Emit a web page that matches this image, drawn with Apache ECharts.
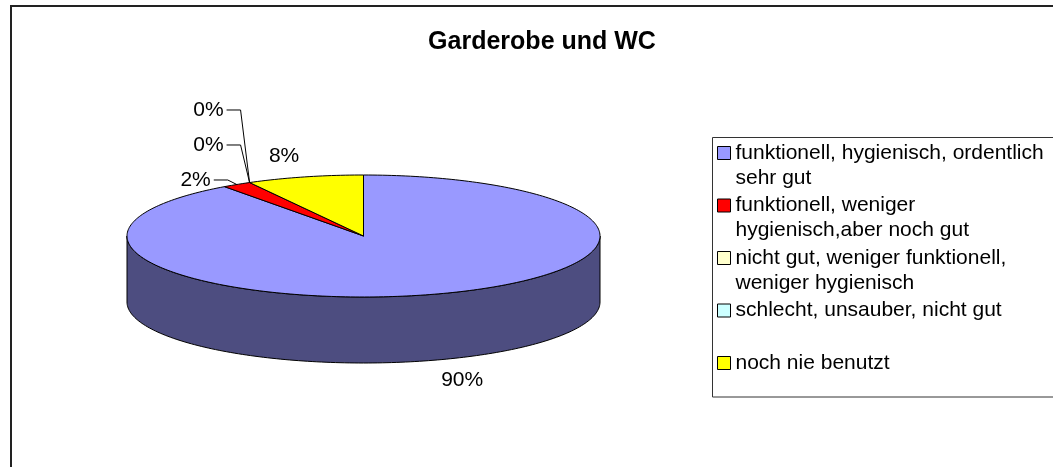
<!DOCTYPE html>
<html>
<head>
<meta charset="utf-8">
<script src="https://cdn.jsdelivr.net/npm/echarts@6/dist/echarts.min.js"></script>
<style>
    html, body {margin: 0; padding: 0; background: #fff;}
    #chart {width: 1053px; height: 467px;}
</style>
</head>
<body>
<div id="chart"></div>
<script>
// categories, with "\n" where the legend wraps them
var categories = [
    'funktionell, hygienisch, ordentlich\nsehr gut',
    'funktionell, weniger\nhygienisch,aber noch gut',
    'nicht gut, weniger funktionell,\nweniger hygienisch',
    'schlecht, unsauber, nicht gut',
    'noch nie benutzt'
];
var values = [90, 2, 0, 0, 8];   // percent
var colors = ['#9999FF', '#FF0000', '#FFFFCC', '#CCFFFF', '#FFFF00'];

// pie geometry (ellipse with a depth)
var cx = 363.5, cy = 236, rx = 236.5, ry = 61, depth = 66;
var FONT = 'Arial, "Liberation Sans", sans-serif';

var total = values.reduce(function (a, b) { return a + b; }, 0);
var starts = [];
var acc = 0;
values.forEach(function (v) { starts.push(acc); acc += v; });

function pt(t, dy) {
    return [cx + rx * Math.sin(t), cy - ry * Math.cos(t) + (dy || 0)];
}
function arc(a0, a1, dy) {
    var n = Math.max(2, Math.ceil(Math.abs(a1 - a0) / 0.02));
    var pts = [];
    for (var i = 0; i <= n; i++) {
        pts.push(pt(a0 + (a1 - a0) * i / n, dy));
    }
    return pts;
}

// label placement like excel: small slices get stacked labels with leader lines
var labels = [];
var smallBase = null, k = 0;
values.forEach(function (v, i) {
    var mid = (starts[i] + v / 2) / total * Math.PI * 2;
    var pct = Math.round(v / total * 100);
    var anchor = pt(mid);
    if (pct < 3) {
        if (smallBase == null) smallBase = anchor[1] - 4.5;
        var y = smallBase - 35 * k;
        k++;
        labels.push({
            text: pct + '%', x: anchor[0] - 26, y: y, align: 'right',
            line: [[anchor[0] - 23, y], [anchor[0] - 9, y], anchor]
        });
    } else {
        var front = Math.cos(mid) < 0;
        labels.push({
            text: pct + '%',
            x: cx + 1.35 * rx * Math.sin(mid),
            y: cy - 1.35 * ry * Math.cos(mid) + (front ? depth : 0),
            align: 'center', line: null
        });
    }
});

function makeSeries(idx) {
    return {
        type: 'custom',
        name: categories[idx],
        coordinateSystem: 'none',
        itemStyle: {color: colors[idx]},
        data: [[values[idx]]],
        renderItem: function (params, api) {
            var v = api.value(0);
            var a0 = starts[idx] / total * Math.PI * 2;
            var a1 = a0 + v / total * Math.PI * 2;
            var children = [];
            // visible front side, darker shade
            var s0 = Math.max(a0, Math.PI / 2), s1 = Math.min(a1, Math.PI * 1.5);
            if (s1 > s0) {
                children.push({
                    type: 'polygon',
                    shape: {points: arc(s0, s1, 0).concat(arc(s1, s0, depth))},
                    style: {fill: echarts.color.lerp(0.5, [colors[idx], '#000000']), stroke: '#000', lineWidth: 1}
                });
            }
            if (v > 0) {
                children.push({
                    type: 'polygon',
                    shape: {points: [[cx, cy]].concat(arc(a0, a1, 0))},
                    style: {fill: colors[idx], stroke: '#000', lineWidth: 1}
                });
            }
            var lb = labels[idx];
            if (lb.line) {
                children.push({
                    type: 'polyline',
                    shape: {points: lb.line},
                    style: {fill: null, stroke: '#000', lineWidth: 1}
                });
            }
            children.push({
                type: 'text',
                style: {
                    text: lb.text, x: lb.x, y: lb.y, align: lb.align, verticalAlign: 'middle',
                    fill: '#000', fontSize: 21, fontFamily: FONT
                }
            });
            return {type: 'group', children: children};
        }
    };
}

var chart = echarts.init(document.getElementById('chart'));
chart.setOption({
    animation: false,
    backgroundColor: '#fff',
    title: {
        text: 'Garderobe und WC',
        left: 542,
        top: 30,
        textAlign: 'center',
        padding: 0,
        textStyle: {fontSize: 25, fontWeight: 'bold', fontFamily: FONT, color: '#000'}
    },
    legend: {
        orient: 'vertical',
        left: 717,
        top: 115.5,
        padding: 0,
        itemWidth: 13,
        itemHeight: 13,
        itemGap: -22.5,
        icon: 'rect',
        selectedMode: false,
        itemStyle: {borderColor: '#000', borderWidth: 1},
        textStyle: {fontSize: 21, fontFamily: FONT, color: '#000', lineHeight: 25},
        formatter: function (name) {
            var parts = name.split('\n');
            return '\n' + parts[0] + '\n' + (parts[1] || '');
        }
    },
    graphic: [
        {
            type: 'rect', z: -1, silent: true,
            shape: {x: 11, y: 6, width: 1100, height: 600},
            style: {fill: null, stroke: '#222', lineWidth: 2}
        },
        {
            type: 'rect', z: -1, silent: true,
            shape: {x: 712.5, y: 137.5, width: 400, height: 259.5},
            style: {fill: null, stroke: '#333', lineWidth: 1}
        }
    ],
    series: values.map(function (v, i) { return makeSeries(i); })
});
</script>
</body>
</html>
